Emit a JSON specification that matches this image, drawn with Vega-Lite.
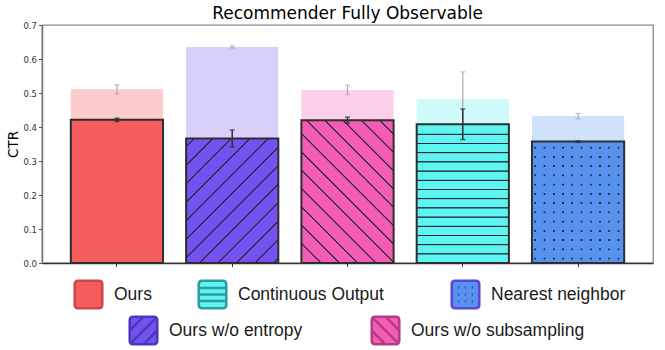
{
  "$schema": "https://vega.github.io/schema/vega-lite/v6.json",
  "width": 611,
  "height": 238,
  "autosize": "none",
  "padding": {"left": 42, "top": 25, "right": 12, "bottom": 87},
  "background": "white",
  "config": {
    "view": {"stroke": "#8a8a8a", "strokeWidth": 1.3},
    "font": "DejaVu Sans",
    "axisX": {"labels": false, "title": null, "ticks": true, "tickSize": 3.5, "tickColor": "#333", "tickWidth": 1, "domainColor": "#333", "domainWidth": 1.5, "grid": false},
    "axisY": {"domainColor": "#777", "domainWidth": 1.5, "tickColor": "#555", "tickSize": 3.5, "tickWidth": 1, "labelFont": "DejaVu Sans", "labelFontSize": 8.5, "labelColor": "#333", "titleFont": "DejaVu Sans", "titleFontSize": 13.5, "titleFontWeight": "normal", "titleColor": "#000", "grid": false, "labelPadding": 2, "titlePadding": 2},
    "legend": {"labelLimit": 400}
  },
  "title": {"text": "Recommender Fully Observable", "font": "DejaVu Sans", "fontSize": 17, "fontWeight": "normal", "color": "#000", "offset": -2, "anchor": "middle"},
  "data": {"values": [
    {"method": "Ours", "fg": 0.421, "fg_lo": 0.416, "fg_hi": 0.426, "bg": 0.511, "bg_lo": 0.498, "bg_hi": 0.524},
    {"method": "Ours w/o entropy", "fg": 0.366, "fg_lo": 0.341, "fg_hi": 0.391, "bg": 0.635, "bg_lo": 0.632, "bg_hi": 0.638},
    {"method": "Ours w/o subsampling", "fg": 0.420, "fg_lo": 0.411, "fg_hi": 0.429, "bg": 0.509, "bg_lo": 0.495, "bg_hi": 0.523},
    {"method": "Continuous Output", "fg": 0.408, "fg_lo": 0.363, "fg_hi": 0.453, "bg": 0.482, "bg_lo": 0.402, "bg_hi": 0.562},
    {"method": "Nearest neighbor", "fg": 0.357, "fg_lo": 0.355, "fg_hi": 0.359, "bg": 0.432, "bg_lo": 0.424, "bg_hi": 0.440}
  ]},
  "encoding": {
    "x": {"field": "method", "type": "nominal", "scale": {"domain": ["Ours", "Ours w/o entropy", "Ours w/o subsampling", "Continuous Output", "Nearest neighbor"], "paddingInner": 0.2, "paddingOuter": 0.25}, "sort": null}
  },
  "layer": [
    {
      "mark": {"type": "bar"},
      "encoding": {
        "y": {"field": "bg", "type": "quantitative", "title": "CTR", "scale": {"domain": [0, 0.7], "nice": false}, "axis": {"values": [0, 0.1, 0.2, 0.3, 0.4, 0.5, 0.6, 0.7], "format": ".1f", "title": "CTR"}},
        "fill": {"field": "method", "type": "nominal", "scale": {"domain": ["Ours", "Ours w/o entropy", "Ours w/o subsampling", "Continuous Output", "Nearest neighbor"], "range": ["#fccbcb", "#d9d0fa", "#fcd0ea", "#cefafa", "#d0e1fb"]}, "legend": null}
      }
    },
    {
      "mark": {"type": "rule", "color": "#aaaaaa", "strokeWidth": 1.2},
      "encoding": {"y": {"field": "bg_lo", "type": "quantitative", "title": "CTR", "axis": {"values": [0, 0.1, 0.2, 0.3, 0.4, 0.5, 0.6, 0.7], "format": ".1f", "title": "CTR"}}, "y2": {"field": "bg_hi"}}
    },
    {
      "mark": {"type": "tick", "color": "#aaaaaa", "thickness": 1.2, "size": 5},
      "encoding": {"y": {"field": "bg_lo", "type": "quantitative", "title": "CTR", "axis": {"values": [0, 0.1, 0.2, 0.3, 0.4, 0.5, 0.6, 0.7], "format": ".1f", "title": "CTR"}}}
    },
    {
      "mark": {"type": "tick", "color": "#aaaaaa", "thickness": 1.2, "size": 5},
      "encoding": {"y": {"field": "bg_hi", "type": "quantitative", "title": "CTR", "axis": {"values": [0, 0.1, 0.2, 0.3, 0.4, 0.5, 0.6, 0.7], "format": ".1f", "title": "CTR"}}}
    },
    {
      "transform": [{"filter": "datum.method === 'Ours'"}],
      "mark": {"type": "bar"},
      "encoding": {
        "y": {"field": "fg", "type": "quantitative", "title": "CTR", "axis": {"values": [0, 0.1, 0.2, 0.3, 0.4, 0.5, 0.6, 0.7], "format": ".1f", "title": "CTR"}},
        "fill": {"field": "method", "type": "nominal", "scale": {"range": ["#f55c5c"]}, "legend": {"orient": "none", "legendX": 31, "legendY": 254, "title": null, "padding": 0, "symbolType": "M-0.75,-1H0.75Q1,-1 1,-0.75V0.75Q1,1 0.75,1H-0.75Q-1,1 -1,0.75V-0.75Q-1,-1 -0.75,-1Z", "symbolSize": 760, "symbolStrokeColor": "#c8484b", "symbolStrokeWidth": 2.5, "symbolOpacity": 1, "labelFont": "Liberation Sans", "labelFontSize": 17.5, "labelColor": "#1a1a1a", "labelOffset": 10, "labelLimit": 400}}
      }
    },
    {
      "transform": [{"filter": "datum.method === 'Ours w/o entropy'"}],
      "mark": {"type": "bar"},
      "encoding": {
        "y": {"field": "fg", "type": "quantitative", "title": "CTR", "axis": {"values": [0, 0.1, 0.2, 0.3, 0.4, 0.5, 0.6, 0.7], "format": ".1f", "title": "CTR"}},
        "fill": {"field": "method", "type": "nominal", "scale": {"range": ["#7452f0"]}, "legend": {"orient": "none", "legendX": 86, "legendY": 290, "title": null, "padding": 0, "symbolType": "M-0.75,-1H0.75Q1,-1 1,-0.75V0.75Q1,1 0.75,1H-0.75Q-1,1 -1,0.75V-0.75Q-1,-1 -0.75,-1Z M-1,0L0,-1M-0.85,0.85L0.85,-0.85M0,1L1,0", "symbolSize": 760, "symbolStrokeColor": "#4a38c0", "symbolStrokeWidth": 2.5, "symbolOpacity": 1, "labelFont": "Liberation Sans", "labelFontSize": 17.5, "labelColor": "#1a1a1a", "labelOffset": 10, "labelLimit": 400}}
      }
    },
    {
      "transform": [{"filter": "datum.method === 'Ours w/o subsampling'"}],
      "mark": {"type": "bar"},
      "encoding": {
        "y": {"field": "fg", "type": "quantitative", "title": "CTR", "axis": {"values": [0, 0.1, 0.2, 0.3, 0.4, 0.5, 0.6, 0.7], "format": ".1f", "title": "CTR"}},
        "fill": {"field": "method", "type": "nominal", "scale": {"range": ["#f55db5"]}, "legend": {"orient": "none", "legendX": 328, "legendY": 290, "title": null, "padding": 0, "symbolType": "M-0.75,-1H0.75Q1,-1 1,-0.75V0.75Q1,1 0.75,1H-0.75Q-1,1 -1,0.75V-0.75Q-1,-1 -0.75,-1Z M-1,0L0,1M-0.85,-0.85L0.85,0.85M0,-1L1,0", "symbolSize": 760, "symbolStrokeColor": "#b43c86", "symbolStrokeWidth": 2.5, "symbolOpacity": 1, "labelFont": "Liberation Sans", "labelFontSize": 17.5, "labelColor": "#1a1a1a", "labelOffset": 10, "labelLimit": 400}}
      }
    },
    {
      "transform": [{"filter": "datum.method === 'Continuous Output'"}],
      "mark": {"type": "bar"},
      "encoding": {
        "y": {"field": "fg", "type": "quantitative", "title": "CTR", "axis": {"values": [0, 0.1, 0.2, 0.3, 0.4, 0.5, 0.6, 0.7], "format": ".1f", "title": "CTR"}},
        "fill": {"field": "method", "type": "nominal", "scale": {"range": ["#5cf5f2"]}, "legend": {"orient": "none", "legendX": 155, "legendY": 254, "title": null, "padding": 0, "symbolType": "M-0.75,-1H0.75Q1,-1 1,-0.75V0.75Q1,1 0.75,1H-0.75Q-1,1 -1,0.75V-0.75Q-1,-1 -0.75,-1Z M-1,-0.48H1M-1,0H1M-1,0.48H1", "symbolSize": 760, "symbolStrokeColor": "#2a9c9c", "symbolStrokeWidth": 2.5, "symbolOpacity": 1, "labelFont": "Liberation Sans", "labelFontSize": 17.5, "labelColor": "#1a1a1a", "labelOffset": 10, "labelLimit": 400}}
      }
    },
    {
      "transform": [{"filter": "datum.method === 'Nearest neighbor'"}],
      "mark": {"type": "bar"},
      "encoding": {
        "y": {"field": "fg", "type": "quantitative", "title": "CTR", "axis": {"values": [0, 0.1, 0.2, 0.3, 0.4, 0.5, 0.6, 0.7], "format": ".1f", "title": "CTR"}},
        "fill": {"field": "method", "type": "nominal", "scale": {"range": ["#5692ee"]}, "legend": {"orient": "none", "legendX": 408, "legendY": 254, "title": null, "padding": 0, "symbolType": "M-0.75,-1H0.75Q1,-1 1,-0.75V0.75Q1,1 0.75,1H-0.75Q-1,1 -1,0.75V-0.75Q-1,-1 -0.75,-1Z M-0.55,-0.5h0.1M-0.05,-0.5h0.1M0.45,-0.5h0.1M-0.55,0h0.1M-0.05,0h0.1M0.45,0h0.1M-0.55,0.5h0.1M-0.05,0.5h0.1M0.45,0.5h0.1", "symbolSize": 760, "symbolStrokeColor": "#5a46d4", "symbolStrokeWidth": 2.5, "symbolOpacity": 1, "labelFont": "Liberation Sans", "labelFontSize": 17.5, "labelColor": "#1a1a1a", "labelOffset": 10, "labelLimit": 400}}
      }
    },
    {
      "transform": [{"filter": "datum.method === 'Ours'"}],
      "mark": {"type": "bar", "fillOpacity": 0, "stroke": "#2e2e2e", "strokeWidth": 2},
      "encoding": {"y": {"field": "fg", "type": "quantitative", "title": "CTR", "axis": {"values": [0, 0.1, 0.2, 0.3, 0.4, 0.5, 0.6, 0.7], "format": ".1f", "title": "CTR"}}}
    },
    {
      "transform": [{"filter": "datum.method === 'Ours w/o entropy'"}],
      "mark": {"type": "bar", "stroke": "#2e2e2e", "strokeWidth": 2, "fill": {"gradient": "linear", "x1": 0, "y1": 0, "x2": 0.8329, "y2": 1.1238, "stops": [
        {"offset": 0, "color": "rgba(38,38,48,0)"},
        {"offset": 0.0319, "color": "rgba(38,38,48,0)"}, {"offset": 0.0361, "color": "#262630"}, {"offset": 0.0397, "color": "#262630"}, {"offset": 0.0439, "color": "rgba(38,38,48,0)"},
        {"offset": 0.1173, "color": "rgba(38,38,48,0)"}, {"offset": 0.1215, "color": "#262630"}, {"offset": 0.1251, "color": "#262630"}, {"offset": 0.1293, "color": "rgba(38,38,48,0)"},
        {"offset": 0.2027, "color": "rgba(38,38,48,0)"}, {"offset": 0.2069, "color": "#262630"}, {"offset": 0.2105, "color": "#262630"}, {"offset": 0.2147, "color": "rgba(38,38,48,0)"},
        {"offset": 0.2881, "color": "rgba(38,38,48,0)"}, {"offset": 0.2923, "color": "#262630"}, {"offset": 0.2959, "color": "#262630"}, {"offset": 0.3001, "color": "rgba(38,38,48,0)"},
        {"offset": 0.3735, "color": "rgba(38,38,48,0)"}, {"offset": 0.3777, "color": "#262630"}, {"offset": 0.3813, "color": "#262630"}, {"offset": 0.3855, "color": "rgba(38,38,48,0)"},
        {"offset": 0.4589, "color": "rgba(38,38,48,0)"}, {"offset": 0.4631, "color": "#262630"}, {"offset": 0.4667, "color": "#262630"}, {"offset": 0.4709, "color": "rgba(38,38,48,0)"},
        {"offset": 0.5443, "color": "rgba(38,38,48,0)"}, {"offset": 0.5485, "color": "#262630"}, {"offset": 0.5521, "color": "#262630"}, {"offset": 0.5563, "color": "rgba(38,38,48,0)"},
        {"offset": 0.6297, "color": "rgba(38,38,48,0)"}, {"offset": 0.6339, "color": "#262630"}, {"offset": 0.6375, "color": "#262630"}, {"offset": 0.6417, "color": "rgba(38,38,48,0)"},
        {"offset": 0.7151, "color": "rgba(38,38,48,0)"}, {"offset": 0.7193, "color": "#262630"}, {"offset": 0.7229, "color": "#262630"}, {"offset": 0.7271, "color": "rgba(38,38,48,0)"},
        {"offset": 0.8006, "color": "rgba(38,38,48,0)"}, {"offset": 0.8048, "color": "#262630"}, {"offset": 0.8084, "color": "#262630"}, {"offset": 0.8126, "color": "rgba(38,38,48,0)"},
        {"offset": 0.8860, "color": "rgba(38,38,48,0)"}, {"offset": 0.8902, "color": "#262630"}, {"offset": 0.8938, "color": "#262630"}, {"offset": 0.8980, "color": "rgba(38,38,48,0)"},
        {"offset": 0.9714, "color": "rgba(38,38,48,0)"}, {"offset": 0.9756, "color": "#262630"}, {"offset": 0.9792, "color": "#262630"}, {"offset": 0.9834, "color": "rgba(38,38,48,0)"},
        {"offset": 1, "color": "rgba(38,38,48,0)"}
      ]}},
      "encoding": {"y": {"field": "fg", "type": "quantitative", "title": "CTR", "axis": {"values": [0, 0.1, 0.2, 0.3, 0.4, 0.5, 0.6, 0.7], "format": ".1f", "title": "CTR"}}}
    },
    {
      "transform": [{"filter": "datum.method === 'Ours w/o subsampling'"}],
      "mark": {"type": "bar", "stroke": "#2e2e2e", "strokeWidth": 2, "fill": {"gradient": "linear", "x1": 0, "y1": 1, "x2": 0.7499, "y2": -0.1615, "stops": [
        {"offset": 0, "color": "rgba(38,38,48,0)"},
        {"offset": 0.0783, "color": "rgba(38,38,48,0)"}, {"offset": 0.0821, "color": "#262630"}, {"offset": 0.0855, "color": "#262630"}, {"offset": 0.0893, "color": "rgba(38,38,48,0)"},
        {"offset": 0.1562, "color": "rgba(38,38,48,0)"}, {"offset": 0.1600, "color": "#262630"}, {"offset": 0.1634, "color": "#262630"}, {"offset": 0.1672, "color": "rgba(38,38,48,0)"},
        {"offset": 0.2341, "color": "rgba(38,38,48,0)"}, {"offset": 0.2379, "color": "#262630"}, {"offset": 0.2413, "color": "#262630"}, {"offset": 0.2451, "color": "rgba(38,38,48,0)"},
        {"offset": 0.3119, "color": "rgba(38,38,48,0)"}, {"offset": 0.3157, "color": "#262630"}, {"offset": 0.3191, "color": "#262630"}, {"offset": 0.3229, "color": "rgba(38,38,48,0)"},
        {"offset": 0.3898, "color": "rgba(38,38,48,0)"}, {"offset": 0.3936, "color": "#262630"}, {"offset": 0.3970, "color": "#262630"}, {"offset": 0.4008, "color": "rgba(38,38,48,0)"},
        {"offset": 0.4677, "color": "rgba(38,38,48,0)"}, {"offset": 0.4715, "color": "#262630"}, {"offset": 0.4749, "color": "#262630"}, {"offset": 0.4787, "color": "rgba(38,38,48,0)"},
        {"offset": 0.5456, "color": "rgba(38,38,48,0)"}, {"offset": 0.5494, "color": "#262630"}, {"offset": 0.5528, "color": "#262630"}, {"offset": 0.5566, "color": "rgba(38,38,48,0)"},
        {"offset": 0.6234, "color": "rgba(38,38,48,0)"}, {"offset": 0.6272, "color": "#262630"}, {"offset": 0.6306, "color": "#262630"}, {"offset": 0.6344, "color": "rgba(38,38,48,0)"},
        {"offset": 0.7013, "color": "rgba(38,38,48,0)"}, {"offset": 0.7051, "color": "#262630"}, {"offset": 0.7085, "color": "#262630"}, {"offset": 0.7123, "color": "rgba(38,38,48,0)"},
        {"offset": 0.7792, "color": "rgba(38,38,48,0)"}, {"offset": 0.7830, "color": "#262630"}, {"offset": 0.7864, "color": "#262630"}, {"offset": 0.7902, "color": "rgba(38,38,48,0)"},
        {"offset": 0.8571, "color": "rgba(38,38,48,0)"}, {"offset": 0.8609, "color": "#262630"}, {"offset": 0.8643, "color": "#262630"}, {"offset": 0.8681, "color": "rgba(38,38,48,0)"},
        {"offset": 0.9349, "color": "rgba(38,38,48,0)"}, {"offset": 0.9387, "color": "#262630"}, {"offset": 0.9421, "color": "#262630"}, {"offset": 0.9459, "color": "rgba(38,38,48,0)"},
        {"offset": 1, "color": "rgba(38,38,48,0)"}
      ]}},
      "encoding": {"y": {"field": "fg", "type": "quantitative", "title": "CTR", "axis": {"values": [0, 0.1, 0.2, 0.3, 0.4, 0.5, 0.6, 0.7], "format": ".1f", "title": "CTR"}}}
    },
    {
      "transform": [{"filter": "datum.method === 'Continuous Output'"}],
      "mark": {"type": "bar", "stroke": "#2e2e2e", "strokeWidth": 2, "fill": {"gradient": "linear", "x1": 0, "y1": 0, "x2": 0, "y2": 1, "stops": [
        {"offset": 0, "color": "rgba(38,38,48,0)"},
        {"offset": 0.0656, "color": "rgba(38,38,48,0)"}, {"offset": 0.0699, "color": "#262630"}, {"offset": 0.0743, "color": "#262630"}, {"offset": 0.0786, "color": "rgba(38,38,48,0)"},
        {"offset": 0.1319, "color": "rgba(38,38,48,0)"}, {"offset": 0.1362, "color": "#262630"}, {"offset": 0.1406, "color": "#262630"}, {"offset": 0.1449, "color": "rgba(38,38,48,0)"},
        {"offset": 0.1983, "color": "rgba(38,38,48,0)"}, {"offset": 0.2026, "color": "#262630"}, {"offset": 0.2070, "color": "#262630"}, {"offset": 0.2113, "color": "rgba(38,38,48,0)"},
        {"offset": 0.2646, "color": "rgba(38,38,48,0)"}, {"offset": 0.2689, "color": "#262630"}, {"offset": 0.2733, "color": "#262630"}, {"offset": 0.2776, "color": "rgba(38,38,48,0)"},
        {"offset": 0.3309, "color": "rgba(38,38,48,0)"}, {"offset": 0.3352, "color": "#262630"}, {"offset": 0.3396, "color": "#262630"}, {"offset": 0.3439, "color": "rgba(38,38,48,0)"},
        {"offset": 0.3973, "color": "rgba(38,38,48,0)"}, {"offset": 0.4016, "color": "#262630"}, {"offset": 0.4060, "color": "#262630"}, {"offset": 0.4103, "color": "rgba(38,38,48,0)"},
        {"offset": 0.4636, "color": "rgba(38,38,48,0)"}, {"offset": 0.4679, "color": "#262630"}, {"offset": 0.4723, "color": "#262630"}, {"offset": 0.4766, "color": "rgba(38,38,48,0)"},
        {"offset": 0.5299, "color": "rgba(38,38,48,0)"}, {"offset": 0.5342, "color": "#262630"}, {"offset": 0.5386, "color": "#262630"}, {"offset": 0.5429, "color": "rgba(38,38,48,0)"},
        {"offset": 0.5962, "color": "rgba(38,38,48,0)"}, {"offset": 0.6005, "color": "#262630"}, {"offset": 0.6049, "color": "#262630"}, {"offset": 0.6092, "color": "rgba(38,38,48,0)"},
        {"offset": 0.6626, "color": "rgba(38,38,48,0)"}, {"offset": 0.6669, "color": "#262630"}, {"offset": 0.6713, "color": "#262630"}, {"offset": 0.6756, "color": "rgba(38,38,48,0)"},
        {"offset": 0.7289, "color": "rgba(38,38,48,0)"}, {"offset": 0.7332, "color": "#262630"}, {"offset": 0.7376, "color": "#262630"}, {"offset": 0.7419, "color": "rgba(38,38,48,0)"},
        {"offset": 0.7952, "color": "rgba(38,38,48,0)"}, {"offset": 0.7995, "color": "#262630"}, {"offset": 0.8039, "color": "#262630"}, {"offset": 0.8082, "color": "rgba(38,38,48,0)"},
        {"offset": 0.8616, "color": "rgba(38,38,48,0)"}, {"offset": 0.8659, "color": "#262630"}, {"offset": 0.8703, "color": "#262630"}, {"offset": 0.8746, "color": "rgba(38,38,48,0)"},
        {"offset": 0.9279, "color": "rgba(38,38,48,0)"}, {"offset": 0.9322, "color": "#262630"}, {"offset": 0.9366, "color": "#262630"}, {"offset": 0.9409, "color": "rgba(38,38,48,0)"},
        {"offset": 1, "color": "rgba(38,38,48,0)"}
      ]}},
      "encoding": {"y": {"field": "fg", "type": "quantitative", "title": "CTR", "axis": {"values": [0, 0.1, 0.2, 0.3, 0.4, 0.5, 0.6, 0.7], "format": ".1f", "title": "CTR"}}}
    },
    {
      "transform": [{"filter": "datum.method === 'Nearest neighbor'"}],
      "mark": {"type": "bar", "fill": {"gradient": "linear", "x1": 0, "y1": 0, "x2": 0, "y2": 1, "stops": [
        {"offset": 0, "color": "rgba(38,38,48,0)"},
        {"offset": 0.0395, "color": "rgba(38,38,48,0)"}, {"offset": 0.0445, "color": "#262630"}, {"offset": 0.0543, "color": "#262630"}, {"offset": 0.0593, "color": "rgba(38,38,48,0)"},
        {"offset": 0.1157, "color": "rgba(38,38,48,0)"}, {"offset": 0.1207, "color": "#262630"}, {"offset": 0.1305, "color": "#262630"}, {"offset": 0.1355, "color": "rgba(38,38,48,0)"},
        {"offset": 0.1919, "color": "rgba(38,38,48,0)"}, {"offset": 0.1969, "color": "#262630"}, {"offset": 0.2067, "color": "#262630"}, {"offset": 0.2117, "color": "rgba(38,38,48,0)"},
        {"offset": 0.2681, "color": "rgba(38,38,48,0)"}, {"offset": 0.2731, "color": "#262630"}, {"offset": 0.2829, "color": "#262630"}, {"offset": 0.2879, "color": "rgba(38,38,48,0)"},
        {"offset": 0.3443, "color": "rgba(38,38,48,0)"}, {"offset": 0.3493, "color": "#262630"}, {"offset": 0.3591, "color": "#262630"}, {"offset": 0.3641, "color": "rgba(38,38,48,0)"},
        {"offset": 0.4205, "color": "rgba(38,38,48,0)"}, {"offset": 0.4255, "color": "#262630"}, {"offset": 0.4353, "color": "#262630"}, {"offset": 0.4403, "color": "rgba(38,38,48,0)"},
        {"offset": 0.4967, "color": "rgba(38,38,48,0)"}, {"offset": 0.5017, "color": "#262630"}, {"offset": 0.5115, "color": "#262630"}, {"offset": 0.5165, "color": "rgba(38,38,48,0)"},
        {"offset": 0.5729, "color": "rgba(38,38,48,0)"}, {"offset": 0.5779, "color": "#262630"}, {"offset": 0.5877, "color": "#262630"}, {"offset": 0.5927, "color": "rgba(38,38,48,0)"},
        {"offset": 0.6491, "color": "rgba(38,38,48,0)"}, {"offset": 0.6541, "color": "#262630"}, {"offset": 0.6639, "color": "#262630"}, {"offset": 0.6689, "color": "rgba(38,38,48,0)"},
        {"offset": 0.7253, "color": "rgba(38,38,48,0)"}, {"offset": 0.7303, "color": "#262630"}, {"offset": 0.7401, "color": "#262630"}, {"offset": 0.7451, "color": "rgba(38,38,48,0)"},
        {"offset": 0.8015, "color": "rgba(38,38,48,0)"}, {"offset": 0.8065, "color": "#262630"}, {"offset": 0.8163, "color": "#262630"}, {"offset": 0.8213, "color": "rgba(38,38,48,0)"},
        {"offset": 0.8777, "color": "rgba(38,38,48,0)"}, {"offset": 0.8827, "color": "#262630"}, {"offset": 0.8925, "color": "#262630"}, {"offset": 0.8975, "color": "rgba(38,38,48,0)"},
        {"offset": 0.9539, "color": "rgba(38,38,48,0)"}, {"offset": 0.9589, "color": "#262630"}, {"offset": 0.9687, "color": "#262630"}, {"offset": 0.9737, "color": "rgba(38,38,48,0)"},
        {"offset": 1, "color": "rgba(38,38,48,0)"}
      ]}},
      "encoding": {"y": {"field": "fg", "type": "quantitative", "title": "CTR", "axis": {"values": [0, 0.1, 0.2, 0.3, 0.4, 0.5, 0.6, 0.7], "format": ".1f", "title": "CTR"}}}
    },
    {
      "transform": [{"filter": "datum.method === 'Nearest neighbor'"}],
      "mark": {"type": "bar", "stroke": "#2e2e2e", "strokeWidth": 2, "fill": {"gradient": "linear", "x1": 0, "y1": 0, "x2": 1, "y2": 0, "stops": [
        {"offset": 0, "color": "#5692ee"},
        {"offset": 0.0228, "color": "#5692ee"}, {"offset": 0.0293, "color": "rgba(86,146,238,0)"}, {"offset": 0.0423, "color": "rgba(86,146,238,0)"}, {"offset": 0.0488, "color": "#5692ee"},
        {"offset": 0.1231, "color": "#5692ee"}, {"offset": 0.1296, "color": "rgba(86,146,238,0)"}, {"offset": 0.1426, "color": "rgba(86,146,238,0)"}, {"offset": 0.1491, "color": "#5692ee"},
        {"offset": 0.2234, "color": "#5692ee"}, {"offset": 0.2299, "color": "rgba(86,146,238,0)"}, {"offset": 0.2429, "color": "rgba(86,146,238,0)"}, {"offset": 0.2494, "color": "#5692ee"},
        {"offset": 0.3238, "color": "#5692ee"}, {"offset": 0.3303, "color": "rgba(86,146,238,0)"}, {"offset": 0.3433, "color": "rgba(86,146,238,0)"}, {"offset": 0.3498, "color": "#5692ee"},
        {"offset": 0.4241, "color": "#5692ee"}, {"offset": 0.4306, "color": "rgba(86,146,238,0)"}, {"offset": 0.4436, "color": "rgba(86,146,238,0)"}, {"offset": 0.4501, "color": "#5692ee"},
        {"offset": 0.5244, "color": "#5692ee"}, {"offset": 0.5309, "color": "rgba(86,146,238,0)"}, {"offset": 0.5439, "color": "rgba(86,146,238,0)"}, {"offset": 0.5504, "color": "#5692ee"},
        {"offset": 0.6247, "color": "#5692ee"}, {"offset": 0.6312, "color": "rgba(86,146,238,0)"}, {"offset": 0.6442, "color": "rgba(86,146,238,0)"}, {"offset": 0.6507, "color": "#5692ee"},
        {"offset": 0.7251, "color": "#5692ee"}, {"offset": 0.7316, "color": "rgba(86,146,238,0)"}, {"offset": 0.7446, "color": "rgba(86,146,238,0)"}, {"offset": 0.7511, "color": "#5692ee"},
        {"offset": 0.8254, "color": "#5692ee"}, {"offset": 0.8319, "color": "rgba(86,146,238,0)"}, {"offset": 0.8449, "color": "rgba(86,146,238,0)"}, {"offset": 0.8514, "color": "#5692ee"},
        {"offset": 0.9257, "color": "#5692ee"}, {"offset": 0.9322, "color": "rgba(86,146,238,0)"}, {"offset": 0.9452, "color": "rgba(86,146,238,0)"}, {"offset": 0.9517, "color": "#5692ee"},
        {"offset": 1, "color": "#5692ee"}
      ]}},
      "encoding": {"y": {"field": "fg", "type": "quantitative", "title": "CTR", "axis": {"values": [0, 0.1, 0.2, 0.3, 0.4, 0.5, 0.6, 0.7], "format": ".1f", "title": "CTR"}}}
    },
    {
      "mark": {"type": "rule", "color": "#2e2e2e", "strokeWidth": 1.5},
      "encoding": {"y": {"field": "fg_lo", "type": "quantitative", "title": "CTR", "axis": {"values": [0, 0.1, 0.2, 0.3, 0.4, 0.5, 0.6, 0.7], "format": ".1f", "title": "CTR"}}, "y2": {"field": "fg_hi"}}
    },
    {
      "mark": {"type": "tick", "color": "#2e2e2e", "thickness": 1.5, "size": 5},
      "encoding": {"y": {"field": "fg_lo", "type": "quantitative", "title": "CTR", "axis": {"values": [0, 0.1, 0.2, 0.3, 0.4, 0.5, 0.6, 0.7], "format": ".1f", "title": "CTR"}}}
    },
    {
      "mark": {"type": "tick", "color": "#2e2e2e", "thickness": 1.5, "size": 5},
      "encoding": {"y": {"field": "fg_hi", "type": "quantitative", "title": "CTR", "axis": {"values": [0, 0.1, 0.2, 0.3, 0.4, 0.5, 0.6, 0.7], "format": ".1f", "title": "CTR"}}}
    }
  ],
  "resolve": {"scale": {"fill": "independent"}, "legend": {"fill": "independent"}}
}
